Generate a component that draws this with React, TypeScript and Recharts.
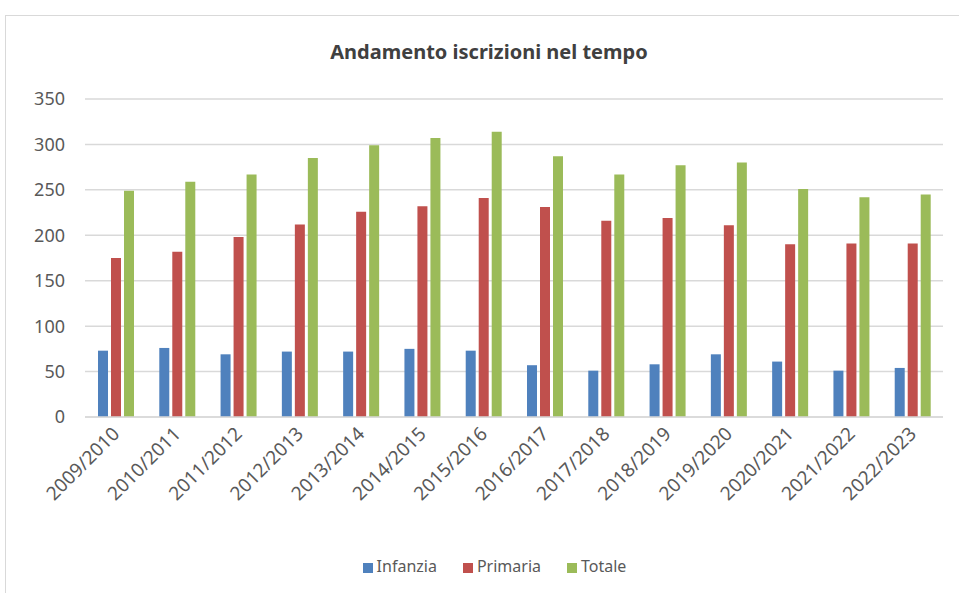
import { BarChart, Bar, XAxis, YAxis, CartesianGrid, Legend } from "recharts";

const years = [
  "2009/2010", "2010/2011", "2011/2012", "2012/2013", "2013/2014", "2014/2015", "2015/2016",
  "2016/2017", "2017/2018", "2018/2019", "2019/2020", "2020/2021", "2021/2022", "2022/2023",
];
const infanzia = [73, 76, 69, 72, 72, 75, 73, 57, 51, 58, 69, 61, 51, 54];
const primaria = [175, 182, 198, 212, 226, 232, 241, 231, 216, 219, 211, 190, 191, 191];
const totale = [249, 259, 267, 285, 299, 307, 314, 287, 267, 277, 280, 251, 242, 245];
const yTicks = [0, 50, 100, 150, 200, 250, 300, 350];

const data = years.map((year, i) => ({
  year,
  Infanzia: infanzia[i],
  Primaria: primaria[i],
  Totale: totale[i],
}));

const tickFont = "'Noto Sans', 'Open Sans', sans-serif";

function YearTick({ x, y, payload }: any) {
  return (
    <text
      x={x + 5}
      y={y + 10}
      transform={`rotate(-45 ${x + 5} ${y + 10})`}
      textAnchor="end"
      fill="#595959"
      fontSize={19}
      fontFamily={tickFont}
    >
      {payload.value}
    </text>
  );
}

export default function App() {
  return (
    <div style={{ position: "absolute", left: 0, top: 0, width: 959, height: 593, background: "#fff" }}>
      <div
        style={{
          position: "absolute",
          left: 5,
          top: 15,
          width: 960,
          height: 580,
          border: "1px solid #d9d9d9",
          boxSizing: "border-box",
        }}
      />
      <div
        style={{
          position: "absolute",
          left: 0,
          top: 38,
          width: 978,
          textAlign: "center",
          fontFamily: "'Noto Sans', sans-serif",
          fontWeight: 700,
          fontSize: 20,
          color: "#404040",
        }}
      >
        Andamento iscrizioni nel tempo
      </div>
      <div style={{ position: "absolute", left: 0, top: 0 }}>
        <BarChart
          width={959}
          height={593}
          data={data}
          margin={{ top: 99, right: 16, bottom: 16, left: 0 }}
          barSize={10}
          barGap={3}
        >
          <CartesianGrid vertical={false} stroke="#d9d9d9" strokeWidth={1.5} />
          <XAxis
            dataKey="year"
            tick={<YearTick />}
            tickLine={false}
            axisLine={{ stroke: "#d9d9d9", strokeWidth: 1.5 }}
            interval={0}
            height={138}
          />
          <YAxis
            domain={[0, 350]}
            ticks={yTicks}
            width={85}
            tickLine={false}
            axisLine={false}
            tick={{ fill: "#595959", fontSize: 18, fontFamily: tickFont, dx: -12 }}
          />
          <Legend
            verticalAlign="bottom"
            iconType="square"
            iconSize={10}
            wrapperStyle={{ fontFamily: tickFont, fontSize: 16, color: "#595959", paddingLeft: 36 }}
            formatter={(v: string) => <span style={{ color: "#595959", marginRight: 16 }}>{v}</span>}
          />
          <Bar dataKey="Infanzia" fill="#4F81BD" isAnimationActive={false} />
          <Bar dataKey="Primaria" fill="#C0504D" isAnimationActive={false} />
          <Bar dataKey="Totale" fill="#9BBB59" isAnimationActive={false} />
        </BarChart>
      </div>
    </div>
  );
}
